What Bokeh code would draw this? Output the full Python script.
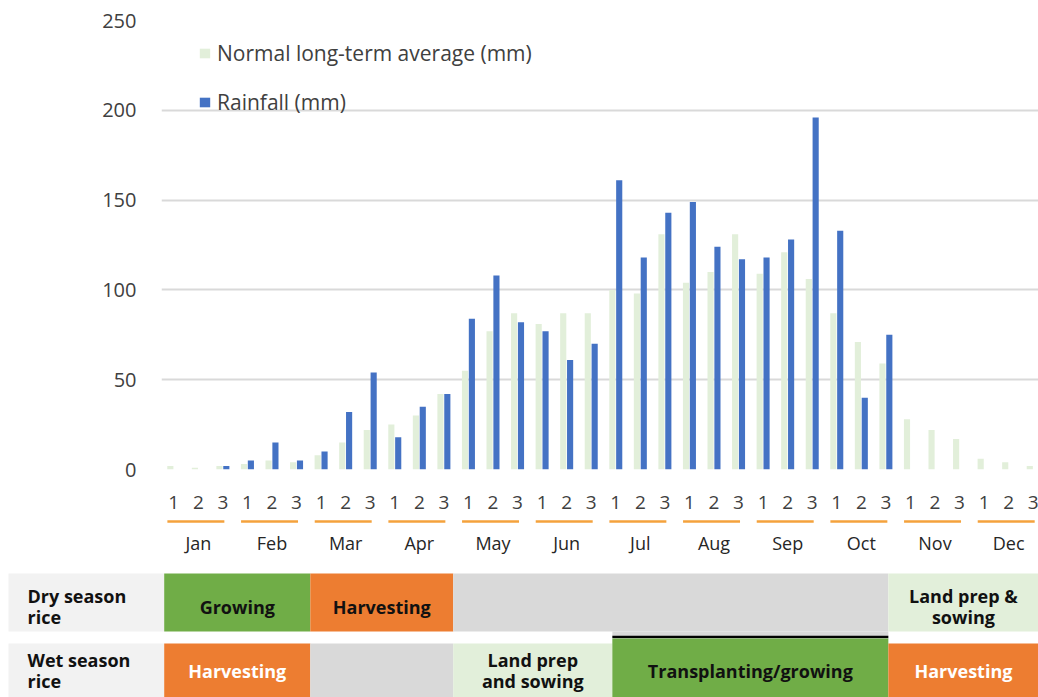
from bokeh.plotting import figure
from bokeh.models import (Range1d, FixedTicker, Legend, LegendItem, ColumnDataSource)
from bokeh.layouts import column
from bokeh.core.properties import value
from bokeh.embed import file_html
from bokeh.resources import INLINE

# ---------------- data ----------------
months = ["Jan", "Feb", "Mar", "Apr", "May", "Jun",
          "Jul", "Aug", "Sep", "Oct", "Nov", "Dec"]
dekad_labels = ["1", "2", "3"] * 12
normal_avg = [2, 1, 2, 3, 5, 4, 8, 15, 22, 25, 30, 42,
              55, 77, 87, 81, 87, 87, 100, 98, 131, 104, 110, 131,
              109, 121, 106, 87, 71, 59, 28, 22, 17, 6, 4, 2]
rainfall = [0, 0, 2, 5, 15, 5, 10, 32, 54, 18, 35, 42,
            84, 108, 82, 77, 61, 70, 161, 118, 143, 149, 124, 117,
            118, 128, 196, 133, 40, 75, 0, 0, 0, 0, 0, 0]
y_ticks = [0, 50, 100, 150, 200, 250]

# crop calendar (in dekad units along the same axis)
dry_names = ["Growing", "Harvesting", "", "Land prep &\nsowing"]
dry_start = [-0.39, 5.56, 11.38, 29.10]
dry_end = [5.56, 11.38, 29.10, 36.0]
dry_kind = ["grow", "harvest", "none", "prep"]
wet_names = ["Harvesting", "", "Land prep\nand sowing", "Transplanting/growing", "Harvesting"]
wet_start = [-0.39, 5.56, 11.38, 17.86, 29.10]
wet_end = [5.56, 11.38, 17.86, 29.10, 36.0]
wet_kind = ["harvest", "none", "prep", "grow", "harvest"]
row_labels = ["Dry season\nrice", "Wet season\nrice"]

# ---------------- styles ----------------
C_NORMAL = "#E2EFDA"
C_RAIN = "#4472C4"
C_GRID = "#D9D9D9"
C_TXT = "#404040"
C_ORANGE_LINE = "#F4A23C"
KIND_COLOR = {"grow": "#70AD47", "harvest": "#ED7D31", "none": "#D9D9D9", "prep": "#E2EFDA"}
FONT = "Open Sans"

W = 1038
BORDER_L = 161
X_START, X_END = -0.5, 35.215
UNIT = (W - BORDER_L) / (X_END - X_START)
X_TABLE_START = X_START - BORDER_L / UNIT

n = len(normal_avg)
idx = list(range(n))

# ---------------- chart ----------------
p = figure(width=W, height=514, output_backend="svg", toolbar_location=None,
           x_range=Range1d(X_START, X_END), y_range=Range1d(0, 250),
           min_border_left=BORDER_L, min_border_right=0,
           min_border_top=20, min_border_bottom=45, frame_align=False)
p.outline_line_color = None
p.background_fill_color = "white"

src = ColumnDataSource(dict(
    xg=[i - 0.14 for i in idx], xb=[i + 0.14 for i in idx],
    normal=normal_avg, rain=rainfall))
r_norm = p.vbar(x="xg", top="normal", width=0.25, source=src,
                fill_color=C_NORMAL, line_color=None)
r_rain = p.vbar(x="xb", top="rain", width=0.25, source=src,
                fill_color=C_RAIN, line_color=None)

p.yaxis.ticker = FixedTicker(ticks=y_ticks)
p.yaxis.axis_line_color = None
p.yaxis.major_tick_line_color = None
p.yaxis.minor_tick_line_color = None
p.yaxis.major_label_text_font = FONT
p.yaxis.major_label_text_font_size = "20px"
p.yaxis.major_label_text_color = C_TXT
p.yaxis.major_label_standoff = 19

p.xaxis.ticker = FixedTicker(ticks=idx)
p.xaxis.major_label_overrides = {i: dekad_labels[i] for i in idx}
p.xaxis.axis_line_color = None
p.xaxis.major_tick_line_color = None
p.xaxis.minor_tick_line_color = None
p.xaxis.major_label_text_font = FONT
p.xaxis.major_label_text_font_size = "19px"
p.xaxis.major_label_text_color = C_TXT
p.xaxis.major_label_standoff = 20

p.xgrid.grid_line_color = None
p.ygrid.grid_line_color = C_GRID
p.ygrid.grid_line_width = 2

legend = Legend(items=[LegendItem(label="Normal long-term average (mm)", renderers=[r_norm]),
                       LegendItem(label="Rainfall (mm)", renderers=[r_rain])],
                location=(37, 353), orientation="vertical",
                glyph_width=13, glyph_height=12, label_height=29, spacing=20,
                label_standoff=6, padding=0, margin=0,
                border_line_color=None, background_fill_alpha=0,
                label_text_font=FONT, label_text_font_size="21px",
                label_text_color=C_TXT)
p.add_layout(legend, "center")

# ---------------- calendar table ----------------
TOP, BOT = 514, 697
t = figure(width=W, height=BOT - TOP, output_backend="svg", toolbar_location=None,
           x_range=Range1d(X_TABLE_START, X_END), y_range=Range1d(BOT, TOP),
           min_border=0, min_border_left=0, min_border_right=0,
           min_border_top=0, min_border_bottom=0, frame_align=False)
t.axis.visible = False
t.grid.visible = False
t.outline_line_color = None

# month underline + month names
m_idx = list(range(12))
t.segment(x0=[3 * m - 0.26 for m in m_idx], x1=[3 * m + 2.06 for m in m_idx],
          y0=[521] * 12, y1=[521] * 12, line_color=C_ORANGE_LINE, line_width=2.5)
t.text(x=[3 * m + 1 for m in m_idx], y=[542] * 12, text=months,
       text_font=value(FONT), text_font_size="18px", text_color="#262626",
       text_align="center", text_baseline="middle")

DRY_T, DRY_B, WET_T, WET_B = 573, 631, 643, BOT
LBL_L = X_TABLE_START + 8 / UNIT
# label column
t.quad(left=[LBL_L] * 2, right=[-0.39] * 2, top=[DRY_T, WET_T], bottom=[DRY_B, WET_B],
       fill_color="#F2F2F2", line_color=None)
t.text(x=[X_TABLE_START + 27 / UNIT] * 2, y=[606, 670], text=row_labels,
       text_font=value(FONT), text_font_style="bold", text_font_size="18px",
       text_color="#111111", text_align="left", text_baseline="middle", text_line_height=0.9)

# dry season row
t.quad(left=dry_start, right=dry_end, top=[DRY_T] * len(dry_start), bottom=[DRY_B] * len(dry_start),
       fill_color=[KIND_COLOR[k] for k in dry_kind], line_color=None)
# gray extension + black line above transplanting cell
t.quad(left=[wet_start[3]], right=[wet_end[3]], top=[DRY_B], bottom=[636],
       fill_color=KIND_COLOR["none"], line_color=None)
t.segment(x0=[wet_start[3]], x1=[wet_end[3]], y0=[636.5], y1=[636.5],
          line_color="black", line_width=2.5)
t.text(x=[(a + b) / 2 for a, b in zip(dry_start, [min(e, X_END) for e in dry_end])],
       y=[606] * len(dry_start), text=dry_names,
       text_font=value(FONT), text_font_style="bold", text_font_size="18px",
       text_color="#111111", text_align="center", text_baseline="middle", text_line_height=0.9)

# wet season row
wet_top = [WET_T if k != "grow" else 638 for k in wet_kind]
t.quad(left=wet_start, right=wet_end, top=wet_top, bottom=[WET_B] * len(wet_start),
       fill_color=[KIND_COLOR[k] for k in wet_kind], line_color=None)
t.text(x=[(a + b) / 2 for a, b in zip(wet_start, [min(e, X_END) for e in wet_end])],
       y=[670] * len(wet_start), text=wet_names,
       text_font=value(FONT), text_font_style="bold", text_font_size="18px",
       text_color=["white" if k == "harvest" else "#111111" for k in wet_kind],
       text_align="center", text_baseline="middle", text_line_height=0.9)

layout = column(p, t, spacing=0)
open("out.html", "w").write(file_html(layout, INLINE))
